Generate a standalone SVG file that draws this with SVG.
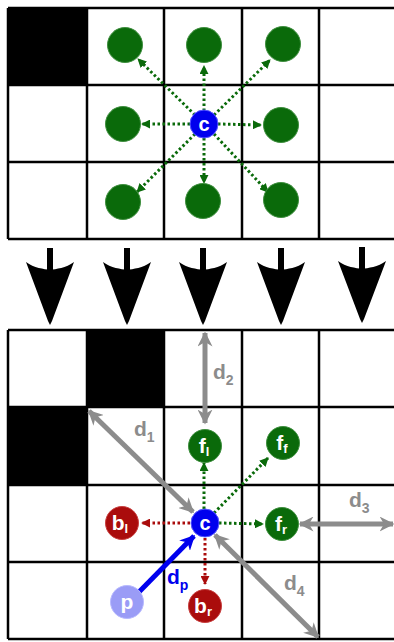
<svg xmlns="http://www.w3.org/2000/svg" width="394" height="642" viewBox="0 0 394 642">
<defs>
<style>
.grid{stroke:#000;stroke-width:2.5;fill:none}
.blk{fill:#000}
.gn{fill:#0a6a0a;stroke:#3f8f3f;stroke-width:1}
.rd{fill:#aa0c0c;stroke:#c84040;stroke-width:1}
.bl{fill:#0000ee;stroke:#5a5aff;stroke-width:1}
.pb{fill:#9a9cf6;stroke:#b8baff;stroke-width:1}
.lbl{font-family:"Liberation Sans",Arial,sans-serif;font-weight:bold;fill:#fff;text-anchor:middle}
.dl{font-family:"Liberation Sans",Arial,sans-serif;fill:#8c8c8c;font-size:21px;font-weight:bold}
.dg{stroke:#0a6a0a;stroke-width:3;stroke-dasharray:2.5 2.5;fill:none}
.dr{stroke:#aa0c0c;stroke-width:3;stroke-dasharray:2.5 2.5;fill:none}
.gy{stroke:#8c8c8c;stroke-width:5;fill:none}
.big{fill:#000}
</style>
<marker id="mg" viewBox="0 0 10 10" refX="9" refY="5" markerWidth="9" markerHeight="9" markerUnits="userSpaceOnUse" orient="auto"><path d="M0,0 L10,5 L0,10 z" fill="#0a6a0a"/></marker>
<marker id="mr" viewBox="0 0 10 10" refX="9" refY="5" markerWidth="9" markerHeight="9" markerUnits="userSpaceOnUse" orient="auto"><path d="M0,0 L10,5 L0,10 z" fill="#aa0c0c"/></marker>
<marker id="ma" viewBox="0 0 10 10" refX="9" refY="5" markerWidth="15" markerHeight="15" markerUnits="userSpaceOnUse" orient="auto-start-reverse"><path d="M0,0 L10,5 L0,10 L3,5 z" fill="#8c8c8c"/></marker>
<marker id="mb" viewBox="0 0 10 10" refX="9" refY="5" markerWidth="15" markerHeight="15" markerUnits="userSpaceOnUse" orient="auto"><path d="M0,0 L10,5 L0,10 L3,5 z" fill="#0000ee"/></marker>
</defs>
<rect width="394" height="642" fill="#fff"/>
<!-- top grid -->
<rect class="blk" x="8" y="8" width="79" height="77"/>
<path class="grid" d="M8,8 H394 M8,85 H394 M8,162 H394 M8,239 H394 M8,8 V239 M87,8 V239 M164,8 V239 M242,8 V239 M319,8 V239"/>
<!-- bottom grid -->
<rect class="blk" x="87" y="330" width="77" height="77"/>
<rect class="blk" x="8" y="407" width="79" height="78"/>
<path class="grid" d="M8,330 H394 M8,407 H394 M8,485 H394 M8,562 H394 M8,639 H394 M8,330 V639 M87,330 V639 M164,330 V639 M242,330 V639 M319,330 V639"/>
<!-- big arrows -->
<g id="bigarrows">
<g transform="translate(50,0)"><rect class="big" x="-3" y="248" width="6" height="22"/><path class="big" d="M-24,262 C-16,268 -6,269 0,270 C6,269 16,268 24,262 L2,321 L0,325 L-2,321 Z"/></g>
<g transform="translate(127,0)"><rect class="big" x="-3" y="248" width="6" height="22"/><path class="big" d="M-24,262 C-16,268 -6,269 0,270 C6,269 16,268 24,262 L2,321 L0,325 L-2,321 Z"/></g>
<g transform="translate(203,0)"><rect class="big" x="-3" y="248" width="6" height="22"/><path class="big" d="M-24,262 C-16,268 -6,269 0,270 C6,269 16,268 24,262 L2,321 L0,325 L-2,321 Z"/></g>
<g transform="translate(281,0)"><rect class="big" x="-3" y="248" width="6" height="22"/><path class="big" d="M-24,262 C-16,268 -6,269 0,270 C6,269 16,268 24,262 L2,321 L0,325 L-2,321 Z"/></g>
<g transform="translate(362,0)"><rect class="big" x="-3" y="247" width="6" height="22"/><path class="big" d="M-24,261 C-16,267 -6,268 0,269 C6,268 16,267 24,261 L2,319 L0,323 L-2,319 Z"/></g>
</g>
<!-- connectors -->
<g id="connectors">
<path class="dg" marker-end="url(#mg)" d="M195,115 L138,59"/>
<path class="dg" marker-end="url(#mg)" d="M204,111 L204,66"/>
<path class="dg" marker-end="url(#mg)" d="M214,115 L270,60"/>
<path class="dg" marker-end="url(#mg)" d="M190,124 L142,124"/>
<path class="dg" marker-end="url(#mg)" d="M218,124 L261,125"/>
<path class="dg" marker-end="url(#mg)" d="M195,134 L137,192"/>
<path class="dg" marker-end="url(#mg)" d="M204,138 L204,183"/>
<path class="dg" marker-end="url(#mg)" d="M214,134 L268,192"/>
<path class="dg" marker-end="url(#mg)" d="M204,509 L204,463"/>
<path class="dg" marker-end="url(#mg)" d="M214,513 L268,458"/>
<path class="dg" marker-end="url(#mg)" d="M219,523 L263,524"/>
<path class="dr" marker-end="url(#mr)" d="M190,523 L142,523"/>
<path class="dr" marker-end="url(#mr)" d="M205,538 L205,584"/>
<path class="gy" marker-start="url(#ma)" marker-end="url(#ma)" d="M205,333 L205,423"/>
<path class="gy" marker-start="url(#ma)" marker-end="url(#ma)" d="M89,411 L193,512"/>
<path class="gy" marker-start="url(#ma)" marker-end="url(#ma)" d="M300,524 L393,524"/>
<path class="gy" marker-start="url(#ma)" marker-end="url(#ma)" d="M215,535 L318,637"/>
<path stroke="#0000ee" stroke-width="5" fill="none" marker-end="url(#mb)" d="M139,592 L194,536"/>
<text class="dl" x="213" y="379">d<tspan font-size="14" dy="6">2</tspan></text>
<text class="dl" x="134" y="436">d<tspan font-size="14" dy="6">1</tspan></text>
<text class="dl" x="349" y="507">d<tspan font-size="14" dy="6">3</tspan></text>
<text class="dl" x="284" y="590">d<tspan font-size="14" dy="6">4</tspan></text>
<text x="167" y="584" font-family="Liberation Sans,Arial,sans-serif" font-weight="bold" font-size="21" fill="#0000ee">d<tspan font-size="14" dy="6">p</tspan></text>
</g>
<!-- top nodes -->
<g id="n-ul"><circle class="gn" cx="125" cy="45" r="17.5"/></g>
<g id="n-u"><circle class="gn" cx="204" cy="45" r="17.5"/></g>
<g id="n-ur"><circle class="gn" cx="283" cy="44" r="17.5"/></g>
<g id="n-l"><circle class="gn" cx="123" cy="124" r="17.5"/></g>
<g id="n-r"><circle class="gn" cx="281" cy="125" r="17.5"/></g>
<g id="n-dl"><circle class="gn" cx="123" cy="202" r="17.5"/></g>
<g id="n-d"><circle class="gn" cx="203" cy="201" r="17.5"/></g>
<g id="n-dr"><circle class="gn" cx="281" cy="200" r="17.5"/></g>
<g id="c-top"><circle class="bl" cx="204" cy="124" r="14"/><text class="lbl" x="204" y="131" font-size="20">c</text></g>
<!-- bottom nodes -->
<g id="c-bot"><circle class="bl" cx="205" cy="523" r="14"/><text class="lbl" x="205" y="530" font-size="20">c</text></g>
<g id="fl"><circle class="gn" cx="205" cy="446" r="16.5"/><text class="lbl" x="204" y="453" font-size="21">f<tspan font-size="13" dy="3">l</tspan></text></g>
<g id="ff"><circle class="gn" cx="283" cy="443" r="16.5"/><text class="lbl" x="282" y="450" font-size="21">f<tspan font-size="13" dy="3">f</tspan></text></g>
<g id="fr"><circle class="gn" cx="282" cy="524" r="16.5"/><text class="lbl" x="281" y="531" font-size="21">f<tspan font-size="13" dy="3">r</tspan></text></g>
<g id="bl"><circle class="rd" cx="122" cy="523" r="16.5"/><text class="lbl" x="120" y="530" font-size="21">b<tspan font-size="13" dy="3">l</tspan></text></g>
<g id="br"><circle class="rd" cx="205" cy="606" r="16.5"/><text class="lbl" x="203" y="613" font-size="21">b<tspan font-size="13" dy="3">r</tspan></text></g>
<g id="p"><circle class="pb" cx="127" cy="602" r="16.5"/><text class="lbl" x="127" y="609" font-size="21">p</text></g>
</svg>
